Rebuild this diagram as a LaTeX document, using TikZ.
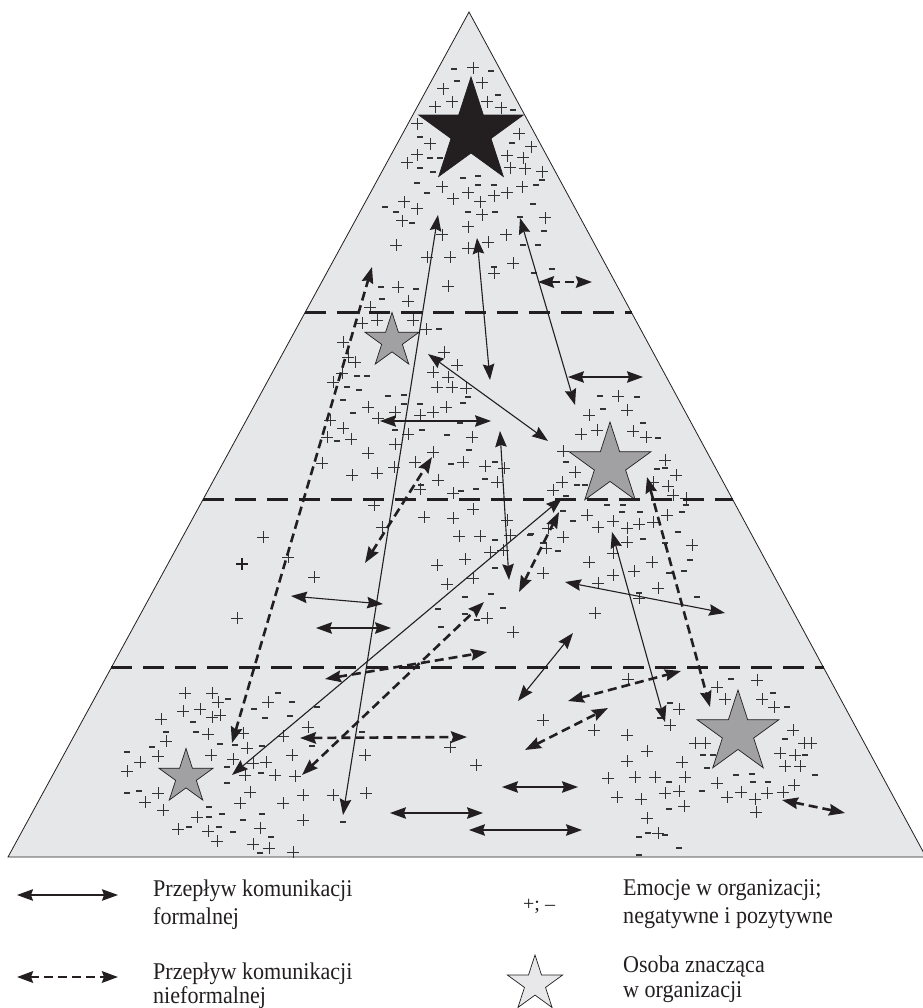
\documentclass[tikz,border=0pt]{standalone}
\usepackage{fontspec}
\setmainfont{Liberation Serif}
\newfontfamily\legfont[FakeStretch=0.92]{Liberation Serif}
\usetikzlibrary{arrows.meta,shapes.geometric,calc}
\definecolor{trifill}{HTML}{E6E7E9}
\definecolor{stargray}{HTML}{A1A1A4}
\definecolor{legstar}{HTML}{E8E8EA}
\definecolor{ink}{HTML}{231F20}
\definecolor{signc}{HTML}{333333}
\newcommand\conn[4]{\coordinate (#2-s) at #3; \coordinate (#2-e) at #4; \draw[#1] (#2-s) -- (#2-e);}
\begin{document}
\begin{tikzpicture}[x=1pt,y=-1pt,
  tip/.tip={Stealth[length=16pt,width=11.5pt,inset=2pt]},
  formal/.style={draw=ink, line width=1.1pt, tip-tip},
  informal/.style={draw=ink, line width=2.6pt, dash pattern=on 9pt off 5pt, tip-tip},
  sep/.style={draw=ink, line width=3pt, dash pattern=on 21pt off 11pt},
  pl/.style={draw=signc, line width=1pt},
  mi/.style={draw=signc, line width=2pt},
  person/.style={star, star points=5, star point ratio=2.618, inner sep=0pt, draw=ink, line width=0.7pt},
  lt/.style={inner sep=0pt, anchor=base west, text=ink, font=\legfont\fontsize{24}{28}\selectfont}
]
\useasboundingbox (0,0) rectangle (922,1008);
% pyramid
\coordinate (A) at (469,12);
\coordinate (B) at (8,857);
\coordinate (C) at (926,857);
\draw[fill=trifill, draw=ink, line width=0.8pt] (A) -- (B) -- (C) -- cycle;
% emotions
\foreach \x/\y in {473/68, 482/83, 443/89, 452/102, 435/107, 487/102, 501/108, 417/124, 519/134, 430/144, 531/147, 417/155, 407/163, 507/156, 523/158, 510/168, 525/169, 542/172, 442/187, 522/187, 468/193, 453/199, 494/196, 507/193, 480/202, 404/202, 417/209, 402/221, 482/215, 545/218, 468/227, 506/235, 488/242, 396/245, 442/235, 468/248, 427/257, 450/257, 513/263, 494/273, 398/287, 448/286,
408/301, 370/307, 377/320, 362/323, 413/320, 426/329, 343/342, 348/357, 355/362, 444/352, 433/372, 457/365, 448/377, 333/382, 342/373, 437/387, 452/387, 466/388, 368/407, 395/412, 420/415, 433/412, 446/407, 378/418, 330/420, 343/428, 408/434, 472/437, 327/437, 351/439, 395/444, 368/453, 433/452, 394/467, 415/462, 463/462, 485/466, 504/468, 322/463, 352/475, 377/473, 438/480, 497/482, 420/489, 453/493, 374/505, 473/509, 424/517, 453/518, 382/527, 507/520,
618/396, 627/410, 589/415, 581/434, 597/430, 633/431, 646/437, 563/451, 665/460, 575/472, 676/475, 562/482, 553/490, 653/482, 668/486, 673/495, 686/498, 587/515, 667/515, 598/527, 613/521, 627/528, 639/524, 653/522, 548/528, 563/537, 546/548, 627/542, 692/545, 613/553, 589/562, 652/562, 634/571, 543/573, 613/575, 598/583, 658/588, 639/598, 595/613,
459/536, 480/536, 510/535, 490/552, 503/550, 437/565, 465/559, 473/578, 447/584, 288/557, 314/577, 487/618, 513/632, 263/537, 237/618,
185/693, 212/693, 218/702, 268/702, 183/711, 200/709, 212/717, 220/715, 161/719, 308/727, 208/734, 243/733, 283/736, 166/741, 247/748, 140/762, 158/756, 127/771, 211/755, 292/755, 365/755, 233/759, 253/763, 266/762, 245/775, 275/775, 295/776, 250/792, 158/793, 145/802, 163/810, 240/803, 283/803, 303/795, 333/795, 366/793, 197/817, 303/820, 178/829, 208/831, 260/828, 217/841, 253/844, 269/848, 293/852,
628/679, 757/680, 717/687, 725/699, 762/699, 774/707, 679/709, 670/725, 543/720, 594/730, 627/735, 647/751, 450/747, 695/743, 705/743, 793/730, 804/743, 811/743, 780/753, 795/755, 627/761, 682/762, 785/766, 800/766, 476/765, 608/778, 635/777, 655/777, 685/777, 717/783, 727/797, 741/792, 755/799, 767/793, 783/792, 794/785, 617/797, 641/799, 665/793, 679/791, 684/806, 756/812, 647/818, 658/833}
  \draw[pl] (\x,\y) +(-6,0) -- +(6,0) +(0,-6) -- +(0,6);
\draw[pl, line width=1.8pt, draw=ink] (242,564) +(-6,0) -- +(6,0) +(0,-6) -- +(0,6);
\foreach \x/\y in {454/69, 491/71, 457/81, 498/95, 513/110, 420/137, 512/143, 430/158, 440/158, 420/168, 433/172, 542/180, 417/183, 463/178, 478/176, 478/185, 494/185, 536/185, 427/193, 533/204, 385/207, 396/212, 412/223, 468/212, 495/212, 544/231, 523/245, 538/245, 494/267, 552/269, 534/273, 416/289, 381/287, 520/217,
382/299, 439/329, 357/376, 367/376, 347/387, 359/390, 343/400, 388/396, 404/395, 404/404, 420/404, 468/397, 463/403, 353/413, 460/423, 395/430, 422/430, 447/435, 337/441, 469/450, 451/464, 495/462, 485/479, 476/489, 461/491,
600/396, 637/397, 603/409, 643/423, 658/438, 566/462, 657/469, 665/468, 577/485, 585/485, 566/496, 686/505, 607/505, 623/505, 563/511, 622/512, 640/512, 682/512, 573/521, 530/535, 678/532, 543/543, 558/551, 643/539, 665/543, 690/560, 669/573, 684/571, 639/593, 697/597,
421/485, 495/540, 531/534, 495/568, 465/597, 491/594, 438/609, 465/614, 477/620, 503/608, 441/627,
228/699, 278/693, 292/702, 317/707, 254/709, 265/718, 290/716, 193/722, 166/732, 196/732, 362/732, 220/744, 235/745, 262/746, 152/747, 127/752, 312/746, 227/767, 261/773, 227/783, 127/793, 139/791, 209/807, 209/817, 222/814, 262/814, 243/820, 189/827, 219/827, 233/832, 271/837, 260/853, 343/822,
728/667, 731/679, 773/693, 787/707, 670/703, 660/718, 785/739, 703/755, 713/755, 805/755, 707/768, 815/775, 669/782, 736/775, 752/774, 768/782, 753/782, 702/791, 669/809, 639/837, 648/833, 665/835, 679/848, 639/855}
  \draw[mi] (\x,\y) +(-3,0) -- +(3,0);
% significant persons
\node[person, fill=ink, minimum size=110pt] (boss) at (471,132) {};
\node[person, fill=stargray, minimum size=57pt] (p1) at (392,341) {};
\node[person, fill=stargray, minimum size=86pt] (p2) at (610,465) {};
\node[person, fill=stargray, minimum size=57pt] (p3) at (186,777) {};
\node[person, fill=stargray, minimum size=86pt] (p4) at (738,733) {};
% levels
\coordinate (l1a) at ($(A)!0.3562!(B)$); \coordinate (l1b) at ($(A)!0.3562!(C)$);
\coordinate (l2a) at ($(A)!0.5775!(B)$); \coordinate (l2b) at ($(A)!0.5775!(C)$);
\coordinate (l3a) at ($(A)!0.7763!(B)$); \coordinate (l3b) at ($(A)!0.7763!(C)$);
\draw[sep] (l1a) -- (l1b);
\draw[sep] (l2a) -- (l2b);
\draw[sep] (l3a) -- (l3b);
% formal communication
\conn{formal}{f1}{(343,815)}{(438,215)}
\conn{formal}{f2}{(477,238)}{(490,380)}
\conn{formal}{f3}{(520,218)}{(575,405)}
\conn{formal}{f4}{(568,377)}{(643,377)}
\conn{formal}{f5}{(428,354)}{(548,441)}
\conn{formal}{f6}{(380,421)}{(491,421)}
\conn{formal}{f7}{(500,431)}{(509,580)}
\conn{formal}{f8}{(232,775)}{(562,498)}
\conn{formal}{f9}{(612,532)}{(665,722)}
\conn{formal}{f10}{(565,582)}{(725,613)}
\conn{formal}{f11}{(291,596)}{(383,604)}
\conn{formal}{f12}{(316,628)}{(391,628)}
\conn{formal}{f13}{(518,701)}{(573,633)}
\conn{formal}{f14}{(502,787)}{(578,787)}
\conn{formal}{f15}{(390,813)}{(483,813)}
\conn{formal}{f16}{(469,830)}{(582,830)}
% informal communication
\conn{informal}{d1}{(538,282)}{(592,282)}
\conn{informal}{d2}{(232,743)}{(372,267)}
\conn{informal}{d3}{(365,563)}{(432,457)}
\conn{informal}{d4}{(519,592)}{(559,512)}
\conn{informal}{d5}{(647,477)}{(710,707)}
\conn{informal}{d6}{(325,679)}{(487,652)}
\conn{informal}{d7}{(302,775)}{(484,602)}
\conn{informal}{d8}{(300,738)}{(467,737)}
\conn{informal}{d9}{(568,701)}{(681,671)}
\conn{informal}{d10}{(525,750)}{(608,708)}
\conn{informal}{d11}{(782,800)}{(845,813)}
% legend
\conn{formal}{lg1}{(17,895)}{(118,895)}
\conn{informal}{lg2}{(17,977)}{(118,977)}
\node[lt] (t1a) at (153,896) {Przepływ komunikacji};
\node[lt] (t1b) at (153,924) {formalnej};
\node[lt] (t2a) at (153,979) {Przepływ komunikacji};
\node[lt] (t2b) at (153,1003) {nieformalnej};
\node[lt, font=\fontsize{20}{24}\selectfont] (sg) at (523,910) {+; –};
\node[lt] (t3a) at (623,895) {Emocje w organizacji;};
\node[lt] (t3b) at (623,923) {negatywne i pozytywne};
\node[person, fill=legstar, minimum size=58pt] (lstar) at (535,984) {};
\node[lt] (t4a) at (623,972) {Osoba znacząca};
\node[lt] (t4b) at (623,997) {w organizacji};
\end{tikzpicture}
\end{document}
